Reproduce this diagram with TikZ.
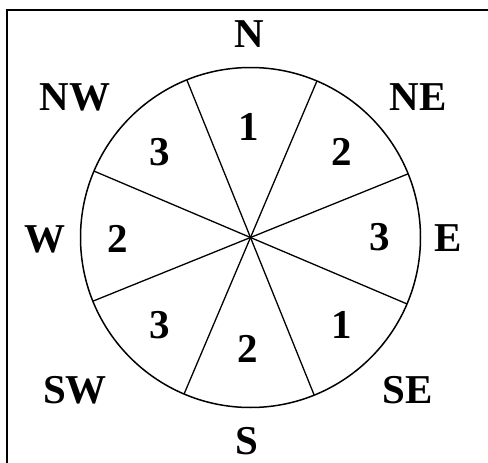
\documentclass[tikz,border=0pt]{standalone}
\usepackage{fontspec}
\setmainfont{Liberation Serif}
\begin{document}
\begin{tikzpicture}[x=1pt,y=-1pt,
  lbl/.style={font=\fontsize{41}{41}\selectfont\bfseries,inner sep=0pt,anchor=base},
  num/.style={font=\fontsize{41}{41}\selectfont\bfseries,inner sep=0pt,anchor=base},
  sector/.style={line width=1.3pt},
  frameline/.style={line width=2pt}]
\useasboundingbox (0,0) rectangle (488,463);
\coordinate (tl) at (7,9.5);
\coordinate (tr) at (488,9.5);
\coordinate (bl) at (7,463);
\draw[frameline] (tr) -- (tl) -- (bl);
\node[draw,circle,line width=1.5pt,minimum size=340pt,inner sep=0pt,outer sep=0pt] (rose) at (250.5,237.5) {};
\foreach \a in {22.5,67.5,112.5,157.5}{
  \draw[sector] (rose.\a) -- (rose.\a+180);
}
% direction labels
\node[lbl] (n) at (249,47) {N};
\node[lbl] (ne) at (418,110) {NE};
\node[lbl] (e) at (448,251) {E};
\node[lbl] (se) at (408,403) {SE};
\node[lbl] (s) at (247,454) {S};
\node[lbl] (sw) at (75,403) {SW};
\node[lbl] (w) at (45,252) {W};
\node[lbl] (nw) at (75,110) {NW};
% sector numbers
\node[num] (k1) at (249,140) {1};
\node[num] (k2) at (342,165) {2};
\node[num] (k3) at (380,250) {3};
\node[num] (k4) at (342,338) {1};
\node[num] (k5) at (248,362) {2};
\node[num] (k6) at (160,338) {3};
\node[num] (k7) at (118,252) {2};
\node[num] (k8) at (160,165) {3};
\end{tikzpicture}
\end{document}
